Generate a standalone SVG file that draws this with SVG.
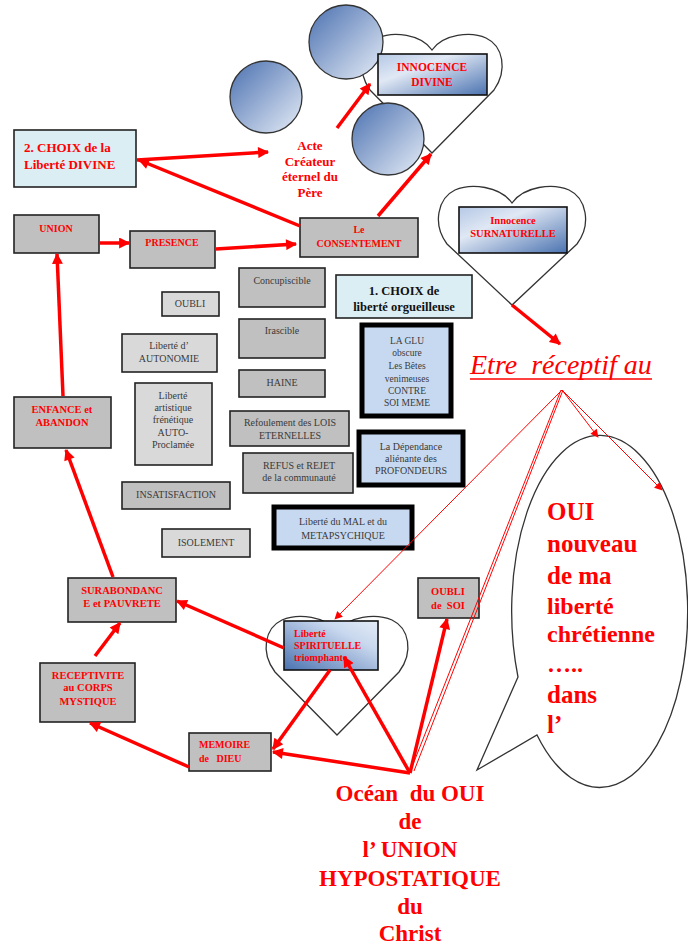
<svg xmlns="http://www.w3.org/2000/svg" width="688" height="948" viewBox="0 0 688 948">
  <defs>
    <linearGradient id="gCircle" x1="0" y1="0" x2="1" y2="1">
      <stop offset="0" stop-color="#4a70b0"/>
      <stop offset="1" stop-color="#e6edf7"/>
    </linearGradient>
    <linearGradient id="gBoxDown" x1="0" y1="0" x2="1" y2="1">
      <stop offset="0" stop-color="#b5c8e6"/>
      <stop offset="0.35" stop-color="#e0e8f4"/>
      <stop offset="1" stop-color="#4a72b0"/>
    </linearGradient>
    <linearGradient id="gBoxUp" x1="0" y1="1" x2="1" y2="0">
      <stop offset="0" stop-color="#4a72b0"/>
      <stop offset="0.7" stop-color="#c9d8ee"/>
      <stop offset="1" stop-color="#e4ecf6"/>
    </linearGradient>
    <marker id="ah" viewBox="0 0 10 10" refX="9" refY="5" markerWidth="13" markerHeight="11" markerUnits="userSpaceOnUse" orient="auto">
      <path d="M0,0 L10,5 L0,10 z" fill="#ff0000"/>
    </marker>
    <marker id="ahThin" viewBox="0 0 10 10" refX="9" refY="5" markerWidth="10" markerHeight="8" markerUnits="userSpaceOnUse" orient="auto">
      <path d="M0,0 L10,5 L0,10 z" fill="#ff0000"/>
    </marker>
  </defs>
  <style>
    .heart { fill: #ffffff; stroke: #333333; stroke-width: 1.3; }
    .circ { fill: url(#gCircle); stroke: #333333; stroke-width: 1.3; }
    .gray { fill: #c0c0c0; stroke: #222222; stroke-width: 1.6; }
    .light { fill: #d9d9d9; stroke: #222222; stroke-width: 1.6; }
    .cyan { fill: #dbeef4; stroke: #222222; stroke-width: 1.6; }
    .thick { fill: #c6d9f1; stroke: #000000; stroke-width: 5; }
    .grad { stroke: #111111; stroke-width: 1.6; }
    .red { fill: #ff0000; font-family: "Liberation Serif", "Times New Roman", serif; font-weight: bold; }
    .dark { fill: #3a3a3a; font-family: "Liberation Serif", "Times New Roman", serif; }
    .blk { fill: #111111; font-family: "Liberation Serif", "Times New Roman", serif; font-weight: bold; }
    .c { text-anchor: middle; }
    .con { stroke: #ff0000; stroke-width: 3.5; fill: none; marker-end: url(#ah); }
    .thin { stroke: #ff0000; stroke-width: 1; fill: none; }
  </style>

  <!-- hearts -->
  <g id="heart-divine">
    <path class="heart" d="M432,50 C421,34 393,31 378,38 C361,46 356,70 370,90 L432,153 L494,90 C508,70 503,46 486,38 C471,31 443,34 432,50 Z"/>
  </g>
  <g id="heart-surnaturelle">
    <path class="heart" d="M512,203 C500,186 471,183 455,190 C438,198 432,224 447,244 L512,305 L577,244 C592,224 586,198 569,190 C553,183 524,186 512,203 Z"/>
  </g>
  <g id="heart-spirituelle">
    <path class="heart" d="M337,632 C326,616 298,613 282,620 C265,628 260,652 275,672 L337,735 L399,672 C414,652 409,628 392,620 C376,613 348,616 337,632 Z"/>
  </g>

  <!-- spheres -->
  <g id="sphere-top"><circle class="circ" cx="346" cy="42" r="37"/></g>
  <g id="sphere-left"><circle class="circ" cx="266" cy="97" r="36"/></g>
  <g id="sphere-right"><circle class="circ" cx="388" cy="139" r="36"/></g>

  <!-- speech bubble -->
  <g id="bubble">
    <path class="heart" d="M518,677 L477,770 L537,735 A88,176 0 1 0 518,677 Z"/>
    <text class="red" font-size="25" x="547" y="520">OUI</text>
    <text class="red" font-size="25" x="547" y="552">nouveau</text>
    <text class="red" font-size="25" x="547" y="584">de ma</text>
    <text class="red" font-size="24" x="547" y="614">liberté</text>
    <text class="red" font-size="24" x="547" y="642">chrétienne</text>
    <text class="red" font-size="24" x="547" y="672">…..</text>
    <text class="red" font-size="25" x="547" y="703">dans</text>
    <text class="red" font-size="25" x="547" y="733">l’</text>
  </g>

  <!-- top nodes -->
  <g id="innocence-divine">
    <rect class="grad" x="378" y="54" width="109" height="41" fill="url(#gBoxDown)"/>
    <text class="red c" font-size="11.5" x="432" y="71">INNOCENCE</text>
    <text class="red c" font-size="11.5" x="432" y="86">DIVINE</text>
  </g>
  <g id="acte">
    <text class="red c" font-size="13" x="310" y="150">Acte</text>
    <text class="red c" font-size="13" x="310" y="166">Créateur</text>
    <text class="red c" font-size="13" x="310" y="181">éternel du</text>
    <text class="red c" font-size="13" x="310" y="197">Père</text>
  </g>
  <g id="choix-divine">
    <rect class="cyan" x="14" y="130" width="122" height="57"/>
    <text class="red" font-size="13" x="24" y="152">2. CHOIX de la</text>
    <text class="red" font-size="13" x="24" y="169">Liberté DIVINE</text>
  </g>
  <g id="union">
    <rect class="gray" x="14" y="215" width="85" height="38"/>
    <text class="red c" font-size="10" x="56" y="232">UNION</text>
  </g>
  <g id="presence">
    <rect class="gray" x="130" y="231" width="85" height="37"/>
    <text class="red c" font-size="10" x="172" y="246">PRESENCE</text>
  </g>
  <g id="consentement">
    <rect class="gray" x="300" y="218" width="118" height="39"/>
    <text class="red c" font-size="10" x="359" y="233">Le</text>
    <text class="red c" font-size="10" x="359" y="247">CONSENTEMENT</text>
  </g>
  <g id="innocence-surnaturelle">
    <rect class="grad" x="459" y="207" width="108" height="46" fill="url(#gBoxDown)"/>
    <text class="red c" font-size="10.5" x="513" y="224">Innocence</text>
    <text class="red c" font-size="10.5" x="513" y="237">SURNATURELLE</text>
  </g>
  <g id="etre-receptif">
    <text x="470" y="374" fill="#ff0000" font-family="'Liberation Serif', 'Times New Roman', serif" font-style="italic" font-size="28" xml:space="preserve">Etre  réceptif au</text>
    <line x1="470" y1="379" x2="652" y2="379" stroke="#ff0000" stroke-width="1.6"/>
  </g>

  <!-- middle nodes -->
  <g id="concupiscible">
    <rect class="gray" x="239" y="268" width="86" height="39"/>
    <text class="dark c" font-size="10" x="282" y="284">Concupiscible</text>
  </g>
  <g id="oubli">
    <rect class="light" x="162" y="292" width="57" height="24"/>
    <text class="dark c" font-size="10" x="190" y="307">OUBLI</text>
  </g>
  <g id="irascible">
    <rect class="gray" x="239" y="319" width="86" height="39"/>
    <text class="dark c" font-size="10" x="282" y="334">Irascible</text>
  </g>
  <g id="autonomie">
    <rect class="light" x="122" y="334" width="95" height="38"/>
    <text class="dark c" font-size="10" x="169" y="349">Liberté d’</text>
    <text class="dark c" font-size="10" x="169" y="362">AUTONOMIE</text>
  </g>
  <g id="haine">
    <rect class="gray" x="239" y="370" width="86" height="27"/>
    <text class="dark c" font-size="10" x="282" y="386">HAINE</text>
  </g>
  <g id="artistique">
    <rect class="light" x="135" y="383" width="77" height="82"/>
    <text class="dark c" font-size="10" x="173" y="399">Liberté</text>
    <text class="dark c" font-size="10" x="173" y="411">artistique</text>
    <text class="dark c" font-size="10" x="173" y="423">frénétique</text>
    <text class="dark c" font-size="10" x="173" y="436">AUTO-</text>
    <text class="dark c" font-size="10" x="173" y="448">Proclamée</text>
  </g>
  <g id="refoulement">
    <rect class="gray" x="230" y="411" width="119" height="35"/>
    <text class="dark c" font-size="10" x="290" y="426">Refoulement des LOIS</text>
    <text class="dark c" font-size="10" x="290" y="439">ETERNELLES</text>
  </g>
  <g id="refus">
    <rect class="gray" x="243" y="453" width="110" height="40"/>
    <text class="dark c" font-size="10" x="299" y="469">REFUS et REJET</text>
    <text class="dark c" font-size="10" x="299" y="481">de la communauté</text>
  </g>
  <g id="insatisfaction">
    <rect class="gray" x="122" y="482" width="108" height="27"/>
    <text class="dark c" font-size="10" x="176" y="498">INSATISFACTION</text>
  </g>
  <g id="isolement">
    <rect class="light" x="162" y="529" width="88" height="28"/>
    <text class="dark c" font-size="10" x="206" y="546">ISOLEMENT</text>
  </g>
  <g id="choix-orgueilleuse">
    <rect class="cyan" x="336" y="275" width="136" height="43"/>
    <text class="blk c" font-size="12.5" x="404" y="295">1. CHOIX de</text>
    <text class="blk c" font-size="12.5" x="404" y="311">liberté orgueilleuse</text>
  </g>
  <g id="glu">
    <rect class="thick" x="362" y="325" width="89" height="91"/>
    <text class="dark c" font-size="9.5" x="407" y="344">LA GLU</text>
    <text class="dark c" font-size="9.5" x="407" y="356">obscure</text>
    <text class="dark c" font-size="9.5" x="407" y="369">Les Bêtes</text>
    <text class="dark c" font-size="9.5" x="407" y="382">venimeuses</text>
    <text class="dark c" font-size="9.5" x="407" y="394">CONTRE</text>
    <text class="dark c" font-size="9.5" x="407" y="406">SOI MEME</text>
  </g>
  <g id="dependance">
    <rect class="thick" x="359" y="432" width="104" height="53"/>
    <text class="dark c" font-size="10" x="411" y="450">La Dépendance</text>
    <text class="dark c" font-size="10" x="411" y="462">aliénante des</text>
    <text class="dark c" font-size="10" x="411" y="474">PROFONDEURS</text>
  </g>
  <g id="liberte-mal">
    <rect class="thick" x="274" y="507" width="138" height="41"/>
    <text class="dark c" font-size="10" x="343" y="525">Liberté du MAL et du</text>
    <text class="dark c" font-size="10" x="343" y="539">METAPSYCHIQUE</text>
  </g>

  <!-- left cycle -->
  <g id="enfance">
    <rect class="gray" x="14" y="397" width="97" height="51"/>
    <text class="red c" font-size="10.5" x="62" y="413">ENFANCE et</text>
    <text class="red c" font-size="10.5" x="62" y="426">ABANDON</text>
  </g>
  <g id="surabondance">
    <rect class="gray" x="68" y="578" width="108" height="44"/>
    <text class="red c" font-size="10.5" x="122" y="594">SURABONDANC</text>
    <text class="red c" font-size="10.5" x="122" y="607">E et PAUVRETE</text>
  </g>
  <g id="receptivite">
    <rect class="gray" x="40" y="663" width="95" height="59"/>
    <text class="red c" font-size="10.5" x="88" y="679">RECEPTIVITE</text>
    <text class="red c" font-size="10.5" x="88" y="691">au CORPS</text>
    <text class="red c" font-size="10.5" x="88" y="705">MYSTIQUE</text>
  </g>
  <g id="memoire">
    <rect class="gray" x="189" y="733" width="82" height="38"/>
    <text class="red" font-size="10" x="199" y="748">MEMOIRE</text>
    <text class="red" font-size="10" x="199" y="762" xml:space="preserve">de   DIEU</text>
  </g>
  <g id="liberte-spirituelle">
    <rect class="grad" x="284" y="621" width="94" height="49" fill="url(#gBoxUp)"/>
    <text class="red" font-size="10" x="294" y="637">Liberté</text>
    <text class="red" font-size="10" x="294" y="649">SPIRITUELLE</text>
    <text class="red" font-size="10" x="294" y="661">triomphante</text>
  </g>
  <g id="oubli-de-soi">
    <rect class="gray" x="418" y="578" width="61" height="40"/>
    <text class="red c" font-size="10.5" x="448" y="595">OUBLI</text>
    <text class="red c" font-size="10.5" x="448" y="609" xml:space="preserve">de  SOI</text>
  </g>
  <g id="ocean">
    <text class="red c" font-size="23" x="410" y="801" xml:space="preserve">Océan  du OUI</text>
    <text class="red c" font-size="23" x="410" y="829">de</text>
    <text class="red c" font-size="23" x="410" y="857">l’ UNION</text>
    <text class="red c" font-size="23" x="410" y="886">HYPOSTATIQUE</text>
    <text class="red c" font-size="23" x="410" y="914">du</text>
    <text class="red c" font-size="23" x="410" y="941">Christ</text>
  </g>

  <!-- connectors -->
  <g id="connectors">
    <line class="con" x1="337" y1="128" x2="370" y2="84"/>
    <line class="con" x1="378" y1="216" x2="431" y2="154"/>
    <line class="con" x1="137" y1="160" x2="268" y2="152"/>
    <line class="con" x1="300" y1="226" x2="139" y2="160"/>
    <line class="con" x1="99" y1="243" x2="129" y2="243"/>
    <line class="con" x1="216" y1="249" x2="296" y2="244"/>
    <line class="con" x1="63" y1="396" x2="57" y2="254"/>
    <line class="con" x1="113" y1="577" x2="66" y2="450"/>
    <line class="con" x1="284" y1="648" x2="177" y2="601"/>
    <line class="con" x1="95" y1="656" x2="120" y2="623"/>
    <line class="con" x1="189" y1="767" x2="90" y2="723"/>
    <line class="con" x1="330" y1="670" x2="273" y2="749"/>
    <line class="con" x1="410" y1="773" x2="273" y2="752"/>
    <line class="con" x1="410" y1="773" x2="344" y2="657"/>
    <line class="con" x1="410" y1="773" x2="447" y2="619"/>
    <line class="con" x1="512" y1="305" x2="560" y2="344"/>
    <!-- fan from "Etre réceptif au" -->
    <line class="thin" x1="562" y1="390" x2="335" y2="619" marker-end="url(#ahThin)"/>
    <line class="thin" x1="561" y1="390" x2="410" y2="772"/>
    <line class="thin" x1="563" y1="390" x2="414" y2="771"/>
    <line class="thin" x1="562" y1="390" x2="598" y2="437" marker-end="url(#ahThin)"/>
    <line class="thin" x1="562" y1="390" x2="662" y2="490" marker-end="url(#ahThin)"/>
  </g>
</svg>
